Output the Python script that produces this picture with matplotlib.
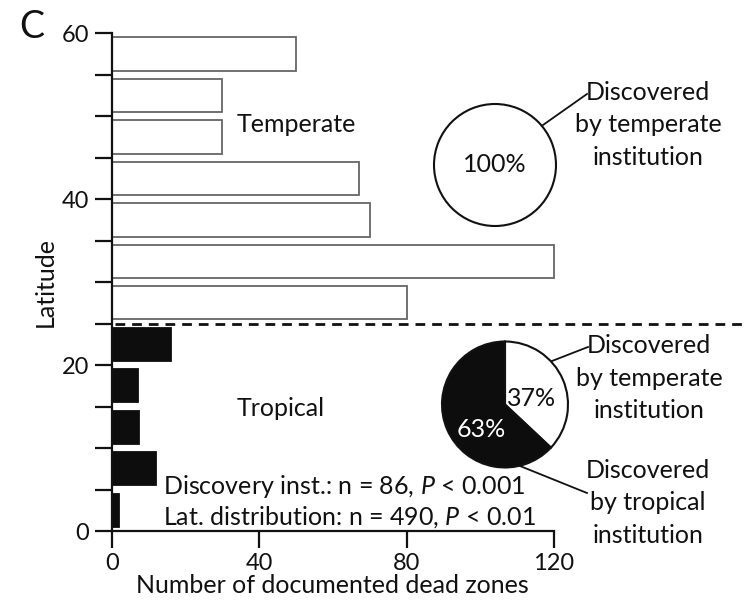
import matplotlib.pyplot as plt
from matplotlib.lines import Line2D

plt.rcParams['font.family'] = ['Lato', 'DejaVu Sans']
plt.rcParams['mathtext.fontset'] = 'custom'
plt.rcParams['mathtext.it'] = 'Lato:italic'
plt.rcParams['mathtext.rm'] = 'Lato'

# Данные: центры широтных интервалов (по 5 градусов) и число мёртвых зон
lat_centers = [2.5, 7.5, 12.5, 17.5, 22.5, 27.5, 32.5, 37.5, 42.5, 47.5, 52.5, 57.5]
dead_zones = [2, 12, 7.5, 7, 16, 80, 120, 70, 67, 30, 30, 50]
zone = ['tropical'] * 5 + ['temperate'] * 7

temperate_pie = [100]
temperate_pie_labels = ['100%']
tropical_pie = [37, 63]
tropical_pie_labels = ['37%', '63%']

W, H = 744, 601
TXT = '#111111'
FS = 18


def fx(x):
    return x / W


def fy(y):
    return 1 - y / H


fig = plt.figure(figsize=(W / 100, H / 100), dpi=100)

# ========== Основной график: столбцы по широте ==========
ax = fig.add_axes([fx(111.7), fy(531), (554 - 111.7) / W, (531 - 33.3) / H])
face = ['#0d0d0d' if z == 'tropical' else 'white' for z in zone]
edge = ['#0d0d0d' if z == 'tropical' else '#666666' for z in zone]
ax.barh(lat_centers, dead_zones, height=4.0, color=face, edgecolor=edge, linewidth=1.3,
        clip_on=False)

ax.set_xlim(0, 120)
ax.set_ylim(0, 60)
ax.set_xticks([0, 40, 80, 120])
ax.set_yticks([0, 20, 40, 60])
ax.set_yticks(range(5, 60, 5), minor=True)
ax.tick_params(axis='both', which='both', direction='out', length=12, width=1.6,
               labelsize=17, color=TXT, labelcolor=TXT)
ax.tick_params(axis='y', pad=4)
ax.tick_params(axis='x', pad=3.5)
for s in ['top', 'right']:
    ax.spines[s].set_visible(False)
for s in ['left', 'bottom']:
    ax.spines[s].set_linewidth(1.6)
    ax.spines[s].set_color(TXT)

ax.set_xlabel('Number of documented dead zones', fontsize=FS, color=TXT)
ax.set_ylabel('Latitude', fontsize=FS, color=TXT)
ax.xaxis.set_label_coords(0.5, -0.086)
ax.yaxis.set_label_coords(-0.125, 0.5)

# Граница тропиков (пунктир)
ax.plot([1, 175], [25, 25], color='#111111', lw=2, linestyle=(0, (3.5, 2.5)), clip_on=False)

fig.text(fx(32), fy(27), 'C', fontsize=27, ha='center', va='center', color=TXT)
fig.text(fx(237), fy(125), 'Temperate', fontsize=FS, ha='left', va='center', color=TXT)
fig.text(fx(237), fy(408), 'Tropical', fontsize=FS, ha='left', va='center', color=TXT)
fig.text(fx(163), fy(486), 'Discovery inst.: n = 86, $P$ < 0.001', fontsize=FS,
         ha='left', va='center', color=TXT)
fig.text(fx(163), fy(517), 'Lat. distribution: n = 490, $P$ < 0.01', fontsize=FS,
         ha='left', va='center', color=TXT)

# ========== Круговые диаграммы ==========
def pie_axes(cx, cy, r, pad=1.05):
    size = 2 * r * pad
    a = fig.add_axes([fx(cx - size / 2), fy(cy + size / 2), size / W, size / H])
    return a


wp = dict(edgecolor='#111111', linewidth=1.5)

axp1 = pie_axes(495, 165, 61)
axp1.pie(temperate_pie, colors=['white'], startangle=90, counterclock=False, wedgeprops=wp)
axp1.set_xlim(-1.05, 1.05)
axp1.set_ylim(-1.05, 1.05)
axp1.text(0, 0, temperate_pie_labels[0], fontsize=FS, ha='center', va='center', color=TXT)

axp2 = pie_axes(505, 404.5, 63)
axp2.pie(tropical_pie, colors=['white', '#0d0d0d'], startangle=90, counterclock=False, wedgeprops=wp)
axp2.set_xlim(-1.05, 1.05)
axp2.set_ylim(-1.05, 1.05)
axp2.text(0.42, 0.10, tropical_pie_labels[0], fontsize=FS, ha='center', va='center', color=TXT)
axp2.text(-0.37, -0.39, tropical_pie_labels[1], fontsize=FS, ha='center', va='center', color='white')

# Выноски
for (x0, y0), (x1, y1) in [((543, 125), (587, 94)),
                           ((552, 361), (588, 347)),
                           ((520, 466), (587, 493))]:
    fig.add_artist(Line2D([fx(x0), fx(x1)], [fy(y0), fy(y1)], transform=fig.transFigure,
                          color='#111111', lw=1.3))

fig.text(fx(648), fy(125), 'Discovered\nby temperate\ninstitution', fontsize=FS,
         ha='center', va='center', linespacing=1.5, color=TXT)
fig.text(fx(649), fy(378), 'Discovered\nby temperate\ninstitution', fontsize=FS,
         ha='center', va='center', linespacing=1.5, color=TXT)
fig.text(fx(648), fy(503), 'Discovered\nby tropical\ninstitution', fontsize=FS,
         ha='center', va='center', linespacing=1.5, color=TXT)

plt.savefig('out.png', dpi=100)
